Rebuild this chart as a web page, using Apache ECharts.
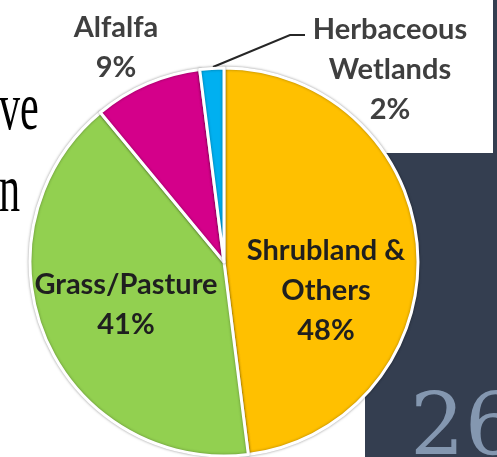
<!DOCTYPE html>
<html>
<head>
<meta charset="utf-8">
<script src="https://cdn.jsdelivr.net/npm/echarts@6/dist/echarts.min.js"></script>
<style>
  html, body { margin: 0; padding: 0; background: #ffffff; }
  #chart { width: 497px; height: 457px; }
</style>
</head>
<body>
<div id="chart"></div>
<script>
// Land cover shares (percent)
const categories = ['Shrubland &\nOthers', 'Grass/Pasture', 'Alfalfa', 'Herbaceous\nWetlands'];
const shares = [48, 41, 9, 2];
const sliceColors = ['#ffc000', '#92d050', '#d4008a', '#00b0f0'];

// Label placement: centre of each label block and optional leader line
const labelSpots = [
  { x: 326, y: 291, color: '#1f1f1f' },
  { x: 126, y: 305, color: '#1f1f1f' },
  { x: 116, y: 48, color: '#3f3f3f' },
  { x: 390, y: 70, color: '#3f3f3f', line: [[213, 67], [290, 35], [305, 35]] }
];

const chart = echarts.init(document.getElementById('chart'), null, { renderer: 'canvas' });

chart.setOption({
  backgroundColor: '#ffffff',
  animation: false,
  graphic: [
    // slide side panel
    { type: 'rect', z: 0, shape: { x: 365, y: 153, width: 132, height: 304 }, style: { fill: '#343e50' } },
    { type: 'rect', z: 0, shape: { x: 493, y: 0, width: 4, height: 153 }, style: { fill: '#343e50' } },
    // slide page number
    { type: 'text', z: 1, x: 410, y: 432, style: {
        text: '26', fill: '#8497b0', font: '86px "DejaVu Serif", "Liberation Serif", serif',
        align: 'left', verticalAlign: 'middle' } },
    // slide body text running off the left edge
    { type: 'text', z: 1, x: -1, y: 111, scaleX: 0.62, style: {
        text: 've', fill: '#000000', font: '68px "Liberation Serif", "DejaVu Serif", serif',
        align: 'left', verticalAlign: 'middle' } },
    { type: 'text', z: 1, x: -1, y: 193, scaleX: 0.62, style: {
        text: 'n', fill: '#000000', font: '68px "Liberation Serif", "DejaVu Serif", serif',
        align: 'left', verticalAlign: 'middle' } }
  ],
  series: [{
    type: 'pie',
    z: 3,
    center: [224, 262],
    radius: 194,
    startAngle: 90,
    clockwise: true,
    itemStyle: {
      borderColor: '#ffffff',
      borderWidth: 3,
      shadowBlur: 3,
      shadowColor: 'rgba(0,0,0,0.35)'
    },
    label: {
      show: true,
      position: 'outside',
      formatter: '{b}\n{d}%',
      fontFamily: 'Lato, "Open Sans", sans-serif',
      fontWeight: 'bold',
      fontSize: 29,
      lineHeight: 40,
      width: 240,
      overflow: 'none',
      align: 'center'
    },
    labelLine: { show: false, lineStyle: { color: '#262626', width: 2 } },
    labelLayout: function (params) {
      const s = labelSpots[params.dataIndex];
      const out = { x: s.x, y: s.y, align: 'center', verticalAlign: 'middle', hideOverlap: false };
      if (s.line) out.labelLinePoints = s.line;
      return out;
    },
    data: categories.map((name, i) => ({
      name: name,
      value: shares[i],
      itemStyle: { color: sliceColors[i] },
      label: { color: labelSpots[i].color },
      labelLine: { show: !!labelSpots[i].line }
    }))
  }]
});
</script>
</body>
</html>
